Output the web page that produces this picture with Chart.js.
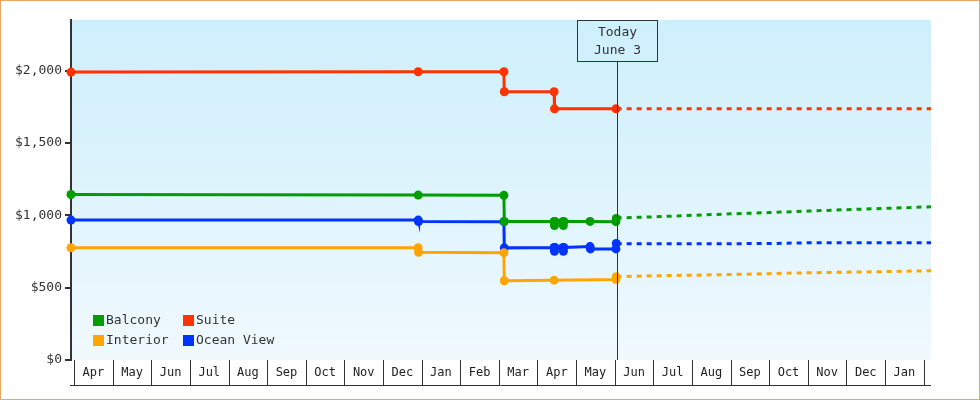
<!DOCTYPE html>
<html>
<head>
<meta charset="utf-8">
<script src="https://cdn.jsdelivr.net/npm/chart.js@4.4.1/dist/chart.umd.min.js"></script>
<style>
  html, body { margin: 0; padding: 0; background: #fff; }
  #wrap { width: 980px; height: 400px; position: relative; }
</style>
</head>
<body>
<div id="wrap"><canvas id="chart"></canvas></div>
<script>
// x values are months counted from Apr 1 of the first year
const months = ['Apr', 'May', 'Jun', 'Jul', 'Aug', 'Sep', 'Oct', 'Nov', 'Dec', 'Jan', 'Feb', 'Mar',
                'Apr', 'May', 'Jun', 'Jul', 'Aug', 'Sep', 'Oct', 'Nov', 'Dec', 'Jan'];
const yTicks = [0, 500, 1000, 1500, 2000];
const todayX = 14.05;
const todayText = ['Today', 'June 3'];

const balconyX = [-0.08, 8.91, 11.13, 11.14, 12.43, 12.44, 12.45, 12.66, 12.67, 12.68, 13.36, 14.03, 14.04];
const balconyY = [1144, 1140, 1138, 957, 957, 930, 957, 957, 930, 958, 958, 956, 978];

const suiteX = [-0.08, 8.91, 11.13, 11.14, 12.43, 12.44, 14.03];
const suiteY = [1990, 1992, 1992, 1854, 1854, 1736, 1736];

const interiorX = [-0.08, 8.91, 8.92, 11.13, 11.14, 12.43, 14.03, 14.04];
const interiorY = [776, 776, 744, 742, 548, 552, 556, 576];

const oceanX = [-0.08, 8.91, 8.92, 11.13, 11.14, 12.43, 12.44, 12.45, 12.66, 12.67, 12.68, 13.36, 13.37, 14.03, 14.04];
const oceanY = [967, 967, 957, 956, 775, 778, 752, 778, 778, 752, 778, 784, 768, 768, 806];

// projected prices after today
const projX = [14.05, 15, 16, 17, 18, 19, 20, 21, 22.19];
const balconyProj = [982, 989, 1000, 1010, 1019, 1029, 1039, 1048, 1059];
const suiteProj = [1736, 1736, 1736, 1736, 1736, 1736, 1736, 1736, 1736];
const interiorProj = [576, 582, 586, 591, 597, 603, 607, 611, 617];
const oceanProj = [804, 804, 804, 804, 805, 810, 811, 811, 811];

const colors = { balcony: '#009e00', suite: '#ff3300', interior: '#ffa500', ocean: '#0033ff' };
const FONT = '"DejaVu Sans Mono", monospace';

const pts = (xs, ys) => xs.map((x, i) => ({ x: x, y: ys[i] }));

const solid = (label, xs, ys, color) => ({
    label: label,
    data: pts(xs, ys),
    borderColor: color,
    backgroundColor: color,
    borderWidth: 3,
    pointRadius: 4.5,
    pointBorderWidth: 0,
    pointBackgroundColor: color,
    tension: 0,
    clip: false,
});

const dotted = (label, ys, color) => ({
    label: label,
    data: pts(projX, ys),
    borderColor: color,
    borderWidth: 3,
    borderDash: [5, 5],
    pointRadius: 0,
    tension: 0,
});

const legendOrder = [
    ['Balcony', colors.balcony], ['Suite', colors.suite],
    ['Interior', colors.interior], ['Ocean View', colors.ocean],
];

const decorations = {
    id: 'decorations',
    beforeDraw(chart) {
        const { ctx, chartArea: a } = chart;
        const g = ctx.createLinearGradient(0, a.top, 0, a.bottom);
        g.addColorStop(0, '#cdeffc');
        g.addColorStop(1, '#f0f9fe');
        ctx.save();
        ctx.fillStyle = g;
        ctx.fillRect(a.left, a.top, a.right - a.left, a.bottom - a.top);
        ctx.restore();
    },
    afterDraw(chart) {
        const { ctx, chartArea: a, scales } = chart;
        const xs = scales.x;
        ctx.save();

        // month boxes under the plot
        ctx.strokeStyle = '#333';
        ctx.lineWidth = 1;
        ctx.beginPath();
        for (let i = 0; i <= months.length; i++) {
            const px = Math.round(xs.getPixelForValue(i)) + 0.5;
            ctx.moveTo(px, a.bottom);
            ctx.lineTo(px, a.bottom + 25);
        }
        ctx.moveTo(a.left - 1, a.bottom + 25.5);
        ctx.lineTo(a.right, a.bottom + 25.5);
        ctx.stroke();

        ctx.fillStyle = '#222';
        ctx.font = '12px ' + FONT;
        ctx.textAlign = 'center';
        ctx.textBaseline = 'middle';
        months.forEach((m, i) => {
            ctx.fillText(m, xs.getPixelForValue(i + 0.5), a.bottom + 13);
        });

        // today marker
        const tx = Math.round(xs.getPixelForValue(todayX)) + 0.5;
        const boxTop = a.top + 0.5, boxH = 41, boxW = 80;
        ctx.beginPath();
        ctx.moveTo(tx, boxTop + boxH);
        ctx.lineTo(tx, a.bottom);
        ctx.stroke();
        ctx.strokeRect(tx - boxW / 2, boxTop, boxW, boxH);
        ctx.fillStyle = '#333';
        ctx.font = '13px ' + FONT;
        ctx.fillText(todayText[0], tx, a.top + 12.5);
        ctx.fillText(todayText[1], tx, a.top + 30.5);

        // legend inside plot
        ctx.textAlign = 'left';
        legendOrder.forEach(([name, color], i) => {
            const col = i % 2, row = Math.floor(i / 2);
            const lx = a.left + 22 + col * 90;
            const ly = a.bottom - 45 + row * 20;
            ctx.fillStyle = color;
            ctx.fillRect(lx, ly, 11, 11);
            ctx.fillStyle = '#333';
            ctx.fillText(name, lx + 13, ly + 6);
        });

        // outer frame
        ctx.strokeStyle = '#eaa862';
        ctx.strokeRect(0.5, 0.5, chart.width - 1, chart.height - 1);
        ctx.restore();
    }
};

new Chart(document.getElementById('chart'), {
    type: 'line',
    data: {
        datasets: [
            solid('Balcony', balconyX, balconyY, colors.balcony),
            solid('Suite', suiteX, suiteY, colors.suite),
            solid('Interior', interiorX, interiorY, colors.interior),
            solid('Ocean View', oceanX, oceanY, colors.ocean),
            dotted('Balcony projected', balconyProj, colors.balcony),
            dotted('Suite projected', suiteProj, colors.suite),
            dotted('Interior projected', interiorProj, colors.interior),
            dotted('Ocean View projected', oceanProj, colors.ocean),
        ],
    },
    options: {
        responsive: true,
        maintainAspectRatio: false,
        devicePixelRatio: 1,
        animation: false,
        layout: { padding: { left: 0, right: 49, top: 20, bottom: 40 } },
        scales: {
            x: { type: 'linear', min: -0.08, max: 22.19, display: false },
            y: {
                min: 0,
                max: 2350,
                afterFit: (s) => { s.width = 71; },
                afterBuildTicks: (s) => { s.ticks = yTicks.map(v => ({ value: v })); },
                border: { color: '#333', width: 2 },
                grid: { drawOnChartArea: false, color: '#333', lineWidth: 2, tickLength: 6 },
                ticks: {
                    color: '#333',
                    padding: 3,
                    font: { family: FONT, size: 13 },
                    callback: (v) => '$' + v.toLocaleString('en-US'),
                },
            },
        },
        plugins: {
            legend: { display: false },
            tooltip: { enabled: false },
        },
    },
    plugins: [decorations],
});
</script>
</body>
</html>
